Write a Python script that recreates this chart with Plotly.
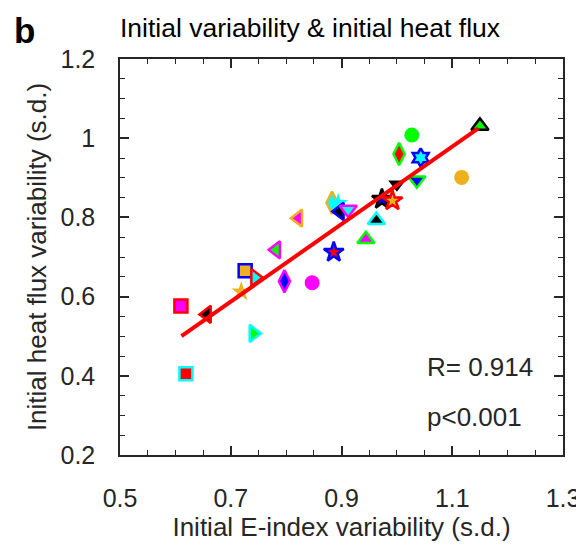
import plotly.graph_objects as go

ORANGE = "#EDB120"

# one entry per model: x, y, symbol, edge colour, fill colour
e_index_sd = [0.610, 0.619, 0.657, 0.719, 0.726, 0.744, 0.741, 0.782, 0.797,
              0.847, 0.886, 0.822, 0.883, 0.894, 0.897, 0.912, 0.963, 0.944,
              0.973, 0.992, 1.000, 1.036, 1.043, 1.004, 1.027, 1.117, 1.150]
heat_flux_sd = [0.576, 0.405, 0.555, 0.612, 0.665, 0.648, 0.507, 0.718, 0.639,
                0.635, 0.712, 0.798, 0.837, 0.836, 0.815, 0.820, 0.793, 0.745,
                0.846, 0.842, 0.884, 0.894, 0.951, 0.960, 1.008, 0.901, 1.031]
symbols = ["square", "square", "triangle-left", "star", "square", "triangle-right",
           "triangle-right", "triangle-left", "diamond-tall", "circle", "star",
           "triangle-left", "diamond-tall", "star", "triangle-left", "triangle-down",
           "triangle-up", "triangle-up", "star", "star", "triangle-down",
           "triangle-down", "hexagram", "diamond-tall", "circle", "circle", "triangle-up"]
edge_colors = ["red", "cyan", "red", ORANGE, "blue", "red", "cyan", "magenta", "magenta",
               "magenta", "blue", ORANGE, ORANGE, "cyan", "blue", "magenta", "cyan",
               "lime", "black", "red", "black", "lime", "blue", "lime", "lime", ORANGE,
               "black"]
fill_colors = ["magenta", "red", "black", ORANGE, ORANGE, "cyan", "lime", "lime", "blue",
               "magenta", "red", "magenta", "cyan", "cyan", "black", "cyan", "black",
               "magenta", "blue", ORANGE, "black", "blue", "cyan", "red", "lime", ORANGE,
               "lime"]

fit_x = [0.611, 1.147]
fit_y = [0.500, 1.025]

r_text = "R= 0.914"
p_text = "p<0.001"

sizes = {"square": 13, "circle": 15, "star": 15, "hexagram": 14, "diamond-tall": 16,
         "triangle-up": 15, "triangle-down": 15, "triangle-left": 15, "triangle-right": 15}

TXT = "#262626"

fig = go.Figure()

for x, y, s, ec, fc in zip(e_index_sd, heat_flux_sd, symbols, edge_colors, fill_colors):
    fig.add_trace(go.Scatter(
        x=[x], y=[y], mode="markers", showlegend=False,
        marker=dict(symbol=s, size=sizes[s], color=fc,
                    line=dict(color=ec, width=0 if ec == fc else 2.5)),
    ))

fig.add_trace(go.Scatter(x=fit_x, y=fit_y, mode="lines", showlegend=False,
                         line=dict(color="red", width=4)))

axis_common = dict(
    showline=True, linecolor=TXT, linewidth=1.5, mirror="allticks",
    ticks="inside", ticklen=9, tickwidth=1.5, tickcolor=TXT,
    showgrid=False, zeroline=False,
    tickfont=dict(size=25, color=TXT),
    minor=dict(ticks="inside", ticklen=5, tickwidth=1.3, tickcolor=TXT, dtick=0.05),
)

fig.update_xaxes(range=[0.5, 1.3], tickvals=[0.5, 0.7, 0.9, 1.1, 1.3],
                 ticktext=["0.5", "0.7", "0.9", "1.1", "1.3"], ticklabelstandoff=20,
                 title=dict(text="Initial E-index variability (s.d.)", standoff=5,
                            font=dict(size=26, color=TXT)),
                 **axis_common)
fig.update_yaxes(range=[0.2, 1.2], tickvals=[0.2, 0.4, 0.6, 0.8, 1.0, 1.2],
                 ticktext=["0.2", "0.4", "0.6", "0.8", "1", "1.2"], ticklabelstandoff=18,
                 title=dict(text="Initial heat flux variability (s.d.)", standoff=6,
                            font=dict(size=26, color=TXT)),
                 **axis_common)

fig.add_annotation(x=0.6885, y=0.222, xref="paper", yref="paper", xanchor="left",
                   yanchor="middle", text=r_text, showarrow=False,
                   font=dict(size=26, color=TXT))
fig.add_annotation(x=0.6885, y=0.096, xref="paper", yref="paper", xanchor="left",
                   yanchor="middle", text=p_text, showarrow=False,
                   font=dict(size=26, color=TXT))
fig.add_annotation(x=-0.243, y=1.071, xref="paper", yref="paper", xanchor="left",
                   yanchor="middle", text="<b>b</b>", showarrow=False,
                   font=dict(size=35, color="black"))
fig.add_annotation(x=0.429, y=1.078, xref="paper", yref="paper", xanchor="center",
                   yanchor="middle", text="Initial variability & initial heat flux",
                   showarrow=False, font=dict(size=26.5, color="black"))

# page body adds an 8px offset, so margins are shifted to compensate
fig.update_layout(
    width=584, height=545,
    margin=dict(l=112, r=29, t=51, b=98),
    plot_bgcolor="white", paper_bgcolor="white",
    font=dict(family="Liberation Sans, Arial, sans-serif"),
)

fig.write_html("out.html")
